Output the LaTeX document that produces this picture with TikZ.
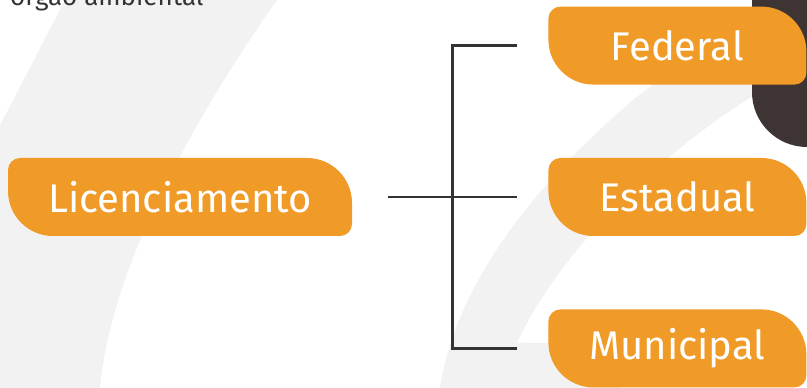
\documentclass[tikz,border=0pt]{standalone}
\usepackage{fontspec}
\setmainfont{Fira Sans}
\usepackage{tikz}
\usetikzlibrary{positioning}
\definecolor{boxorange}{HTML}{F09A28}
\definecolor{bggray}{HTML}{F2F2F2}
\definecolor{darkbrown}{HTML}{3F3434}
\definecolor{linegray}{HTML}{333333}

\begin{document}
\begin{tikzpicture}[x=1pt,y=1pt,
  leaf/.style={minimum height=78pt,inner sep=0pt,text=white,font=\fontsize{40}{40}\selectfont,
    path picture={\fill[boxorange]
      ([yshift=-12pt]path picture bounding box.north west) arc[start angle=180,end angle=90,radius=12pt]
      -- ([xshift=-45pt]path picture bounding box.north east) arc[start angle=90,end angle=0,radius=45pt]
      -- ([yshift=12pt]path picture bounding box.south east) arc[start angle=0,end angle=-90,radius=12pt]
      -- ([xshift=45pt]path picture bounding box.south west) arc[start angle=270,end angle=180,radius=45pt]
      -- cycle;}},
  link/.style={line width=2.6pt,draw=linegray}]

  \useasboundingbox (0,0) rectangle (807,388);
  \clip (0,0) rectangle (807,388);

  % Hintergrund
  \fill[bggray] (0,263) .. controls (25,310) and (45,350) .. (65,388) -- (277,388)
    .. controls (180,250) and (110,110) .. (100,0) -- (0,0) -- cycle;
  \fill[bggray] (440,0) .. controls (455,100) and (530,200) .. (633,288)
    .. controls (690,335) and (760,360) .. (807,370) -- (807,322)
    .. controls (680,260) and (560,140) .. (517,45) -- (620,45) -- (620,0) -- cycle;
  \fill[darkbrown] (752,388) -- (752,296) arc[start angle=180,end angle=270,radius=55pt]
    -- (810,241) -- (810,388) -- cycle;

  \node[font=\fontsize{26}{26}\selectfont,text=linegray,anchor=base west,inner sep=0pt] (orgao) at (10,382) {órgão ambiental};

  % Kaesten
  \node[leaf,minimum width=344pt] (lic) at (180,191) {Licenciamento};
  \node[leaf,minimum width=258pt] (est) [right=196pt of lic] {Estadual};
  \node[leaf,minimum width=258pt] (fed) [above=73pt of est] {Federal};
  \node[leaf,minimum width=258pt] (mun) [below=73pt of est] {Municipal};

  % Verbindungen
  \coordinate (start) at ([xshift=36pt]lic.east);
  \coordinate (split) at ([xshift=64pt]start);
  \coordinate (fedin) at ([xshift=-31pt]fed.west);
  \coordinate (estin) at ([xshift=-31pt]est.west);
  \coordinate (munin) at ([xshift=-31pt]mun.west);

  \draw[link] (fedin) -| (split) |- (munin);
  \draw[link] (start) -- (estin);

\end{tikzpicture}
\end{document}
